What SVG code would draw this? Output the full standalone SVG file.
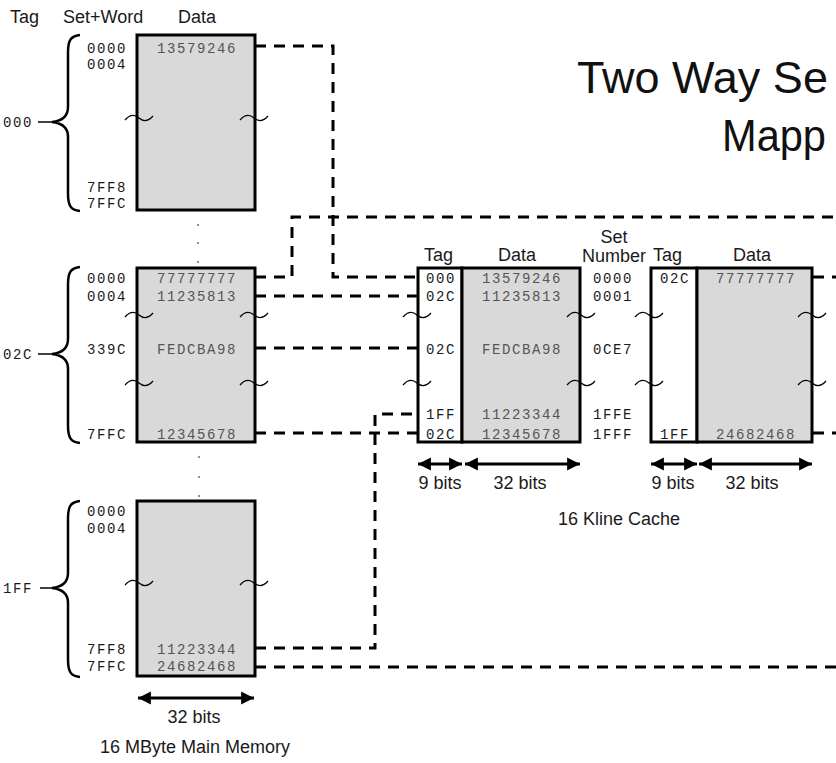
<svg xmlns="http://www.w3.org/2000/svg" width="836" height="763" viewBox="0 0 836 763">
<defs>
<style>
.sans{font-family:"Liberation Sans",Arial,sans-serif;font-size:18px;fill:#1a1a1a}
.title{font-family:"Liberation Sans",Arial,sans-serif;font-size:45px;fill:#111}
.mono{font-family:"Liberation Mono","Courier New",monospace;font-size:14px;letter-spacing:1.6px;fill:#1a1a1a}
.dat{fill:#555}
.mid{text-anchor:middle}
.box{fill:#d9d9d9;stroke:#000;stroke-width:3}
.tagbox{fill:#fff;stroke:#000;stroke-width:3}
.dash{fill:none;stroke:#000;stroke-width:3;stroke-dasharray:11 8}
.brace{fill:none;stroke:#000;stroke-width:2.5}
.tl{fill:none;stroke:#000;stroke-width:1.3}
.arr{fill:none;stroke:#000;stroke-width:3;marker-start:url(#ah);marker-end:url(#ah)}
.dot{fill:#777}
</style>
<marker id="ah" viewBox="0 0 10 10" refX="10" refY="5" markerWidth="4.3" markerHeight="4.6" orient="auto-start-reverse" markerUnits="strokeWidth"><path d="M0,0 L10,5 L0,10 z" fill="#000"/></marker>
<path id="tilde" class="tl" d="M0,2 Q7,-6 14,0 Q21,6 28,-2"/>
<path id="brace" class="brace" d="M30,0 C20,1 18,6 18,18 L18,72 C18,81 12,86 2,87 C12,88 18,93 18,102 L18,158 C18,170 20,175 30,176"/>
</defs>
<rect width="836" height="763" fill="#fff"/>

<g id="title">
<text class="title" x="577" y="93">Two Way Se</text>
<text class="title" x="722" y="151" textLength="104" lengthAdjust="spacingAndGlyphs">Mapp</text>
</g>

<g id="memory-headers">
<text class="sans" x="10" y="23">Tag</text>
<text class="sans" x="63" y="23">Set+Word</text>
<text class="sans" x="178" y="23">Data</text>
</g>

<g id="mem-tag-000">
<rect class="box" x="137" y="35" width="118" height="175"/>
<use href="#brace" x="50" y="35"/>
<line x1="38" y1="122" x2="52" y2="122" stroke="#000" stroke-width="1.5"/>
<text class="mono" x="3" y="127">000</text>
<text class="mono" x="87" y="53">0000</text>
<text class="mono" x="87" y="69">0004</text>
<text class="mono" x="87" y="192">7FF8</text>
<text class="mono" x="87" y="208">7FFC</text>
<text class="mono dat mid" x="197" y="53">13579246</text>
<use href="#tilde" x="125" y="118"/>
<use href="#tilde" x="240" y="118"/>
</g>

<g id="mem-dots">
<circle class="dot" cx="198" cy="225" r="1.1"/>
<circle class="dot" cx="198" cy="243" r="1.1"/>
<circle class="dot" cx="198" cy="262" r="1.1"/>
<circle class="dot" cx="199" cy="457" r="1.1"/>
<circle class="dot" cx="199" cy="477" r="1.1"/>
<circle class="dot" cx="199" cy="496" r="1.1"/>
</g>

<g id="mem-tag-02C">
<rect class="box" x="137" y="268" width="118" height="174"/>
<use href="#brace" x="50" y="267"/>
<line x1="38" y1="354" x2="52" y2="354" stroke="#000" stroke-width="1.5"/>
<text class="mono" x="3" y="359">02C</text>
<text class="mono" x="87" y="283">0000</text>
<text class="mono" x="87" y="301">0004</text>
<text class="mono" x="87" y="354">339C</text>
<text class="mono" x="87" y="439">7FFC</text>
<text class="mono dat mid" x="197" y="283">77777777</text>
<text class="mono dat mid" x="197" y="301">11235813</text>
<text class="mono dat mid" x="197" y="354">FEDCBA98</text>
<text class="mono dat mid" x="197" y="439">12345678</text>
<use href="#tilde" x="125" y="315"/>
<use href="#tilde" x="240" y="315"/>
<use href="#tilde" x="125" y="383"/>
<use href="#tilde" x="240" y="383"/>
</g>

<g id="mem-tag-1FF">
<rect class="box" x="137" y="501" width="118" height="175"/>
<use href="#brace" x="50" y="501"/>
<line x1="40" y1="588" x2="52" y2="588" stroke="#000" stroke-width="1.5"/>
<text class="mono" x="3" y="593">1FF</text>
<text class="mono" x="87" y="516">0000</text>
<text class="mono" x="87" y="533">0004</text>
<text class="mono" x="87" y="654">7FF8</text>
<text class="mono" x="87" y="671">7FFC</text>
<text class="mono dat mid" x="197" y="654">11223344</text>
<text class="mono dat mid" x="197" y="671">24682468</text>
<use href="#tilde" x="125" y="583"/>
<use href="#tilde" x="240" y="583"/>
</g>

<g id="mem-footer">
<line class="arr" x1="138" y1="698" x2="254" y2="698"/>
<text class="sans mid" x="194" y="723">32 bits</text>
<text class="sans" x="100" y="753">16 MByte Main Memory</text>
</g>

<g id="cache-way1">
<text class="sans" x="424" y="261">Tag</text>
<text class="sans" x="498" y="261">Data</text>
<rect class="tagbox" x="418" y="268" width="44" height="174"/>
<rect class="box" x="462" y="268" width="118" height="174"/>
<text class="mono mid" x="441" y="283">000</text>
<text class="mono mid" x="441" y="301">02C</text>
<text class="mono mid" x="441" y="354">02C</text>
<text class="mono mid" x="441" y="419">1FF</text>
<text class="mono mid" x="441" y="439">02C</text>
<text class="mono dat mid" x="522" y="283">13579246</text>
<text class="mono dat mid" x="522" y="301">11235813</text>
<text class="mono dat mid" x="522" y="354">FEDCBA98</text>
<text class="mono dat mid" x="522" y="419">11223344</text>
<text class="mono dat mid" x="522" y="439">12345678</text>
<use href="#tilde" x="403" y="315"/>
<use href="#tilde" x="403" y="383"/>
<use href="#tilde" x="567" y="315"/>
<use href="#tilde" x="567" y="383"/>
<line class="arr" x1="418" y1="464" x2="462" y2="464"/>
<line class="arr" x1="465" y1="464" x2="580" y2="464"/>
<text class="sans mid" x="440" y="489">9 bits</text>
<text class="sans mid" x="520" y="489">32 bits</text>
</g>

<g id="set-number">
<text class="sans mid" x="614" y="243">Set</text>
<text class="sans mid" x="614" y="262">Number</text>
<text class="mono" x="593" y="283">0000</text>
<text class="mono" x="593" y="301">0001</text>
<text class="mono" x="593" y="354">0CE7</text>
<text class="mono" x="593" y="419">1FFE</text>
<text class="mono" x="593" y="439">1FFF</text>
</g>

<g id="cache-way2">
<text class="sans" x="653" y="261">Tag</text>
<text class="sans" x="733" y="261">Data</text>
<rect class="tagbox" x="651" y="268" width="46" height="174"/>
<rect class="box" x="697" y="268" width="115" height="174"/>
<text class="mono mid" x="675" y="283">02C</text>
<text class="mono mid" x="675" y="439">1FF</text>
<text class="mono dat mid" x="756" y="283">77777777</text>
<text class="mono dat mid" x="756" y="439">24682468</text>
<use href="#tilde" x="635" y="315"/>
<use href="#tilde" x="635" y="383"/>
<use href="#tilde" x="798" y="315"/>
<use href="#tilde" x="798" y="383"/>
<line class="arr" x1="651" y1="464" x2="697" y2="464"/>
<line class="arr" x1="699" y1="464" x2="812" y2="464"/>
<text class="sans mid" x="673" y="489">9 bits</text>
<text class="sans mid" x="752" y="489">32 bits</text>
</g>

<g id="cache-caption">
<text class="sans mid" x="619" y="525">16 Kline Cache</text>
</g>

<g id="connectors">
<path class="dash" d="M255,46 H333 V277 H418"/>
<path class="dash" d="M255,277 H292 V217 H836"/>
<path class="dash" d="M255,296 H418"/>
<path class="dash" d="M255,348 H418"/>
<path class="dash" d="M255,433 H418"/>
<path class="dash" d="M255,648 H375 V414 H418"/>
<path class="dash" d="M255,667 H836"/>
<path class="dash" d="M813,277 H836"/>
<path class="dash" d="M813,433 H836"/>
</g>
</svg>
